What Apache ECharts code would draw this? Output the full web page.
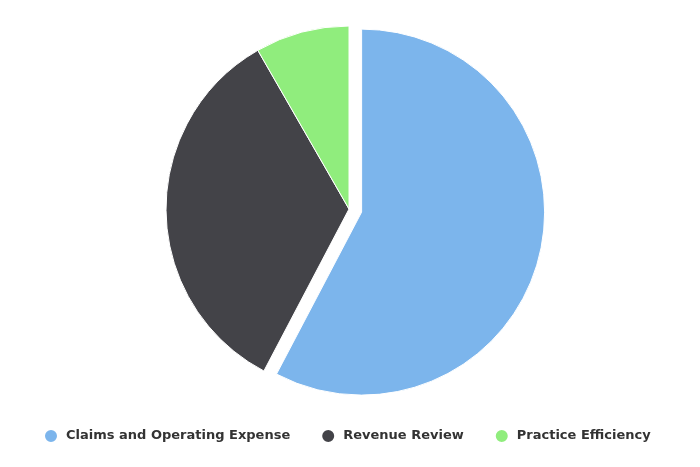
<!DOCTYPE html>
<html>
<head>
<meta charset="utf-8">
<script src="https://cdn.jsdelivr.net/npm/echarts@6/dist/echarts.min.js"></script>
<style>
  html, body { margin: 0; padding: 0; background: #ffffff; }
  #chart { width: 700px; height: 467px; }
</style>
</head>
<body>
<div id="chart"></div>
<script>
  const categories = ['Claims and Operating Expense', 'Revenue Review', 'Practice Efficiency']
  const values = [57.7, 34.0, 8.3]
  const colors = ['#7cb5ec', '#434348', '#90ed7d']

  const chart = echarts.init(document.getElementById('chart'))

  const option = {
    animation: false,
    color: colors,
    legend: {
      top: 423,
      left: 38,
      icon: 'circle',
      itemWidth: 14,
      itemHeight: 14,
      itemGap: 30,
      textStyle: {
        fontFamily: 'DejaVu Sans',
        fontSize: 13,
        fontWeight: 'bold',
        color: '#333333',
        padding: [0, 0, 0, 3]
      },
      data: categories
    },
    series: [
      {
        type: 'pie',
        center: [349, 209],
        radius: 183,
        startAngle: 90,
        clockwise: true,
        selectedMode: 'single',
        selectedOffset: 13,
        label: { show: false },
        labelLine: { show: false },
        itemStyle: {
          borderColor: '#ffffff',
          borderWidth: 1
        },
        emphasis: { disabled: true },
        data: categories.map((name, i) => ({
          name: name,
          value: values[i],
          selected: i === 0
        }))
      }
    ]
  }

  chart.setOption(option)
</script>
</body>
</html>
